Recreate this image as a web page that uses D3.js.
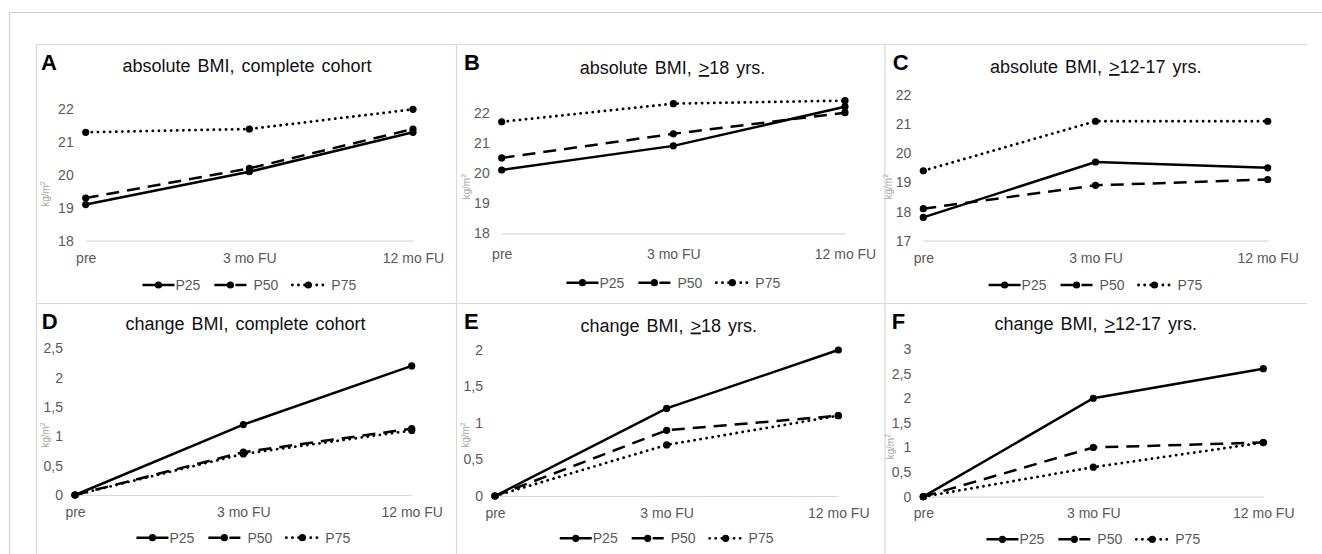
<!DOCTYPE html>
<html>
<head>
<meta charset="utf-8">
<script src="https://cdn.jsdelivr.net/npm/d3@7"></script>
<style>
    body { margin: 0; background: #fff; }
    svg { display: block; font-family: Arial, "Liberation Sans", sans-serif; }
</style>
</head>
<body>
<svg id="canvas" width="1322" height="554"></svg>
<script>
// categories on the x axis and the three percentile series
let categories = ["pre", "3 mo FU", "12 mo FU"];
let seriesNames = ["P25", "P50", "P75"];

// A: absolute BMI, complete cohort
let absAllP25 = [19.1, 20.1, 21.3];
let absAllP50 = [19.3, 20.2, 21.4];
let absAllP75 = [21.3, 21.4, 22.0];
// B: absolute BMI, >=18 yrs.
let absAdultP25 = [20.1, 20.9, 22.2];
let absAdultP50 = [20.5, 21.3, 22.0];
let absAdultP75 = [21.7, 22.3, 22.4];
// C: absolute BMI, >=12-17 yrs.
let absTeenP25 = [17.8, 19.7, 19.5];
let absTeenP50 = [18.1, 18.9, 19.1];
let absTeenP75 = [19.4, 21.1, 21.1];
// D: change BMI, complete cohort
let chgAllP25 = [0, 1.2, 2.2];
let chgAllP50 = [0, 0.73, 1.13];
let chgAllP75 = [0, 0.7, 1.1];
// E: change BMI, >=18 yrs.
let chgAdultP25 = [0, 1.2, 2.0];
let chgAdultP50 = [0, 0.9, 1.1];
let chgAdultP75 = [0, 0.7, 1.1];
// F: change BMI, >=12-17 yrs.
let chgTeenP25 = [0, 2.0, 2.6];
let chgTeenP50 = [0, 1.0, 1.1];
let chgTeenP75 = [0, 0.6, 1.1];

// y tick values per panel
let ticksAbs = [18, 19, 20, 21, 22];
let ticksAbsTeen = [17, 18, 19, 20, 21, 22];
let ticksChgAll = [0, 0.5, 1, 1.5, 2, 2.5];
let ticksChgAdult = [0, 0.5, 1, 1.5, 2];
let ticksChgTeen = [0, 0.5, 1, 1.5, 2, 2.5, 3];

let panelLetters = ["A", "B", "C", "D", "E", "F"];
// title parts: [before, underlined, after]
let panelTitles = [
    ["absolute BMI, complete cohort", "", ""],
    ["absolute BMI, ", ">", "18 yrs."],
    ["absolute BMI, ", ">", "12-17 yrs."],
    ["change BMI, complete cohort", "", ""],
    ["change BMI, ", ">", "18 yrs."],
    ["change BMI, ", ">", "12-17 yrs."]
];

let panelSeries = [
    [absAllP25, absAllP50, absAllP75],
    [absAdultP25, absAdultP50, absAdultP75],
    [absTeenP25, absTeenP50, absTeenP75],
    [chgAllP25, chgAllP50, chgAllP75],
    [chgAdultP25, chgAdultP50, chgAdultP75],
    [chgTeenP25, chgTeenP50, chgTeenP75]
];
let panelTicks = [ticksAbs, ticksAbs, ticksAbsTeen, ticksChgAll, ticksChgAdult, ticksChgTeen];

// layout of each small chart (pixel positions, not data)
let layout = [
    { x0: 85.7, x1: 413, yTop: 109.3, yBot: 240.7, xlab: 258, leg: 285, yt: [45.7, 194], letter: [41, 70], title: [247, 72] },
    { x0: 501.7, x1: 845, yTop: 112.7, yBot: 233.3, xlab: 254, leg: 282.7, yt: [466.7, 186.7], letter: [464, 70], title: [672.5, 74] },
    { x0: 923.3, x1: 1267.7, yTop: 95, yBot: 240.7, xlab: 258.3, leg: 285, yt: [888.3, 186.7], letter: [892.7, 70], title: [1095.8, 73] },
    { x0: 75, x1: 411.7, yTop: 348.3, yBot: 495, xlab: 511.7, leg: 537.7, yt: [45.7, 435], letter: [41.7, 329.3], title: [245.5, 329.5] },
    { x0: 495, x1: 838.3, yTop: 350, yBot: 496, xlab: 513.3, leg: 538.3, yt: [465, 435], letter: [464, 329.3], title: [668.7, 331.5] },
    { x0: 923.3, x1: 1263.3, yTop: 349, yBot: 496.7, xlab: 513.3, leg: 539.3, yt: [890.7, 446.7], letter: [891.7, 329.3], title: [1095.8, 330] }
];

// stroke styles for P25, P50, P75
let dashes = [null, "13 8", "0.1 6"];
let caps = ["butt", "butt", "round"];

let svg = d3.select("#canvas");
let tickFmt = d3.format(",");
let fmtComma = function (v) {
    return String(v).replace(".", ",");
};

// outer frame (only top and left edge are in view)
svg.append("path")
    .attr("d", "M9.5,554 V12.5 H1322")
    .attr("fill", "none")
    .attr("stroke", "#cfcfcf")
    .attr("stroke-width", 1.2);

// panel borders
let grid = svg.append("g")
    .attr("stroke", "#d9d9d9")
    .attr("stroke-width", 1.2)
    .attr("fill", "none");
grid.append("path").attr("d", "M36,44.5 H1307 M36,303.5 H1307 M36.5,44 V554 M456.5,44 V554 M885,44 V554");

let drawPanel = function (i) {
    let L = layout[i];
    let ticks = panelTicks[i];
    let g = svg.append("g").attr("class", "panel");

    let x = d3.scalePoint()
        .domain(categories)
        .range([L.x0, L.x1]);

    let y = d3.scaleLinear()
        .domain([d3.min(ticks), d3.max(ticks)])
        .range([L.yBot, L.yTop]);

    // panel letter
    g.append("text")
        .attr("x", L.letter[0])
        .attr("y", L.letter[1])
        .style("font-size", "22px")
        .style("font-weight", "bold")
        .attr("fill", "#000")
        .text(panelLetters[i]);

    // title
    let t = g.append("text")
        .attr("x", L.title[0])
        .attr("y", L.title[1])
        .attr("text-anchor", "middle")
        .style("font-size", "18px")
        .style("word-spacing", "2px")
        .attr("fill", "#111");
    t.append("tspan").text(panelTitles[i][0]);
    if (panelTitles[i][1]) {
        t.append("tspan").style("text-decoration", "underline").text(panelTitles[i][1]);
        t.append("tspan").text(panelTitles[i][2]);
    }

    // y axis: labels only, bottom line drawn separately
    let yAxis = d3.axisLeft(y)
        .tickValues(ticks)
        .tickSize(0)
        .tickPadding(12)
        .tickFormat(fmtComma);
    let ya = g.append("g")
        .attr("transform", "translate(" + L.x0 + ",0)")
        .call(yAxis);
    ya.select(".domain").remove();
    ya.selectAll("text")
        .style("font-size", "14px")
        .attr("fill", "#595959");

    // x axis line + category labels
    let xAxis = d3.axisBottom(x).tickSize(0).tickPadding(0);
    let xa = g.append("g")
        .attr("transform", "translate(0," + L.yBot + ")")
        .call(xAxis);
    xa.select(".domain")
        .attr("stroke", "#d9d9d9")
        .attr("stroke-width", 1.2);
    xa.selectAll("text")
        .attr("y", L.xlab - L.yBot)
        .attr("dy", "0.35em")
        .style("font-size", "14px")
        .attr("fill", "#595959");

    // y axis title
    let yt = g.append("text")
        .attr("transform", "translate(" + L.yt[0] + "," + L.yt[1] + ") rotate(-90)")
        .attr("text-anchor", "middle")
        .attr("dy", "0.35em")
        .style("font-size", "10px")
        .attr("fill", "#a6a6a6");
    yt.append("tspan").text("kg/m");
    yt.append("tspan").attr("dy", "-4").style("font-size", "7px").text("2");

    // series lines and markers
    let line = d3.line()
        .x(function (d, k) { return x(categories[k]); })
        .y(function (d) { return y(d); });

    panelSeries[i].forEach(function (vals, s) {
        g.append("path")
            .datum(vals)
            .attr("d", line)
            .attr("fill", "none")
            .attr("stroke", "#000")
            .attr("stroke-width", s === 2 ? 2.8 : 2.5)
            .attr("stroke-linecap", caps[s])
            .attr("stroke-dasharray", dashes[s]);

        g.selectAll(null)
            .data(vals)
            .enter()
            .append("circle")
            .attr("cx", function (d, k) { return x(categories[k]); })
            .attr("cy", function (d) { return y(d); })
            .attr("r", 3.6)
            .attr("fill", "#000");
    });

    // legend, centred under the plot
    let sample = 32, gapAfter = 14;
    let legend = g.append("g");
    let cursor = 0;
    seriesNames.forEach(function (name, s) {
        let item = legend.append("g").attr("transform", "translate(" + cursor + ",0)");
        item.append("line")
            .attr("x1", 0).attr("x2", sample)
            .attr("y1", 0).attr("y2", 0)
            .attr("stroke", "#000")
            .attr("stroke-width", s === 2 ? 2.8 : 2.5)
            .attr("stroke-linecap", caps[s])
            .attr("stroke-dasharray", dashes[s]);
        item.append("circle")
            .attr("cx", sample / 2)
            .attr("r", 3.6)
            .attr("fill", "#000");
        let textGap = s === 0 ? 1 : 7;
        let label = item.append("text")
            .attr("x", sample + textGap)
            .attr("dy", "0.35em")
            .style("font-size", "14px")
            .attr("fill", "#595959")
            .text(name);
        let w = label.node().getComputedTextLength();
        cursor += sample + textGap + w + gapAfter;
    });
    let total = cursor - gapAfter;
    legend.attr("transform", "translate(" + ((L.x0 + L.x1) / 2 - total / 2) + "," + L.leg + ")");
};

d3.range(6).forEach(drawPanel);
</script>
</body>
</html>
